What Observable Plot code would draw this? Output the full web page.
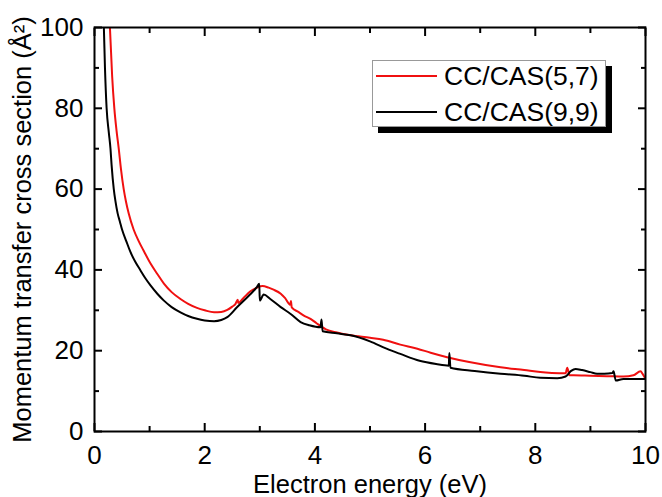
<!DOCTYPE html>
<html>
<head>
<meta charset="utf-8">
<script src="https://cdn.jsdelivr.net/npm/d3@7"></script>
<script src="https://cdn.jsdelivr.net/npm/@observablehq/plot@0.6"></script>
<style>
  html, body { margin: 0; padding: 0; background: #fff; }
  #wrap { position: relative; width: 662px; height: 497px; font-family: "Liberation Sans", Arial, sans-serif; }
  #legend { position: absolute; left: 372px; top: 60px; width: 232px; height: 65px; background: #fff;
            border: 1px solid #999; box-shadow: 6px 6px 0 #000; }
  .row { position: absolute; left: 0; height: 30px; display: flex; align-items: center; }
  .sw { width: 61px; height: 2px; margin-left: 3px; margin-right: 7px; }
  .lab { font-size: 26.5px; color: #000; line-height: 30px; }
</style>
</head>
<body>
<div id="wrap"></div>
<script>
// Series: CC/CAS(5,7)
const energyRed = [0.25,0.28,0.32,0.36,0.40,0.44,0.48,0.53,0.57,0.62,0.71,0.8,0.89,1.02,1.14,1.26,1.4,1.56,1.7,1.86,2.0,2.17,2.3,2.41,2.5,2.56,2.6,2.61,2.7,2.83,2.95,3.05,3.16,3.25,3.38,3.46,3.55,3.565,3.58,3.7,3.8,3.92,4.03,4.2,4.4,4.65,5.0,5.24,5.55,5.86,6.1,6.4,6.8,7.37,7.8,8.09,8.3,8.55,8.58,8.62,8.7,9.0,9.3,9.6,9.78,9.91,9.95,10.0];
const sigmaRed  = [106,100,88,80,74.5,70,65,60,57,54,50,47.2,44.8,41.5,39,36.6,34.5,32.8,31.6,30.6,30,29.5,29.6,30.1,30.9,31.6,32.6,31.8,33,34.7,35.6,36,35.6,35.1,34.1,33,31.4,32.3,30.7,29.6,28.7,27.9,26.8,25.3,24.5,23.8,23.2,22.7,21.5,20.5,19.5,18.4,17.2,15.9,15.2,14.7,14.5,14.4,15.8,13.9,13.9,13.8,13.7,13.6,13.9,14.9,14.2,13.0];
// Series: CC/CAS(9,9)
const energyBlack = [0.15,0.17,0.19,0.22,0.26,0.29,0.31,0.35,0.38,0.42,0.46,0.5,0.58,0.65,0.74,0.83,0.92,1.02,1.14,1.26,1.4,1.56,1.7,1.86,2.0,2.17,2.3,2.41,2.59,2.8,2.95,2.99,3.0,3.07,3.19,3.38,3.56,3.74,3.9,4.1,4.12,4.14,4.4,4.65,5.0,5.3,5.55,5.9,6.2,6.43,6.44,6.46,6.9,7.37,7.8,8.09,8.4,8.55,8.65,8.73,8.85,9.0,9.12,9.25,9.4,9.42,9.46,9.6,10.0];
const sigmaBlack  = [107,100,90,80,74,70,66,60,57,54,52,50,47,44.5,42,40,38,36.1,34.1,32.4,30.8,29.5,28.6,27.9,27.5,27.3,27.6,28.3,30.8,33.6,35.8,36.6,32.4,33.9,32.8,30.8,29.1,27.1,26.3,25.8,27.7,24.8,24.3,23.8,22.3,20.5,19.2,17.5,16.7,16.3,19.4,15.8,15.0,14.3,13.8,13.3,13.2,13.6,15.0,15.5,15.2,14.7,14.3,14.3,14.5,14.9,12.6,13.0,13.0];

const seriesNames = ["CC/CAS(5,7)", "CC/CAS(9,9)"];
const seriesColors = ["#f01010", "#000000"];

const xMajor = [0,2,4,6,8,10];
const xMinor = [1,3,5,7,9];
const yMajor = [0,20,40,60,80,100];
const yMinor = [10,30,50,70,90];

const xTitle = "Electron energy (eV)";
const yTitle = "Momentum transfer cross section (Å²)";

const red = energyRed.map((e,i) => ({e, s: sigmaRed[i]}));
const black = energyBlack.map((e,i) => ({e, s: sigmaBlack[i]}));

const fnt = "Liberation Sans, Arial, sans-serif";

const plot = Plot.plot({
  width: 662, height: 497,
  marginLeft: 94, marginRight: 17, marginTop: 27, marginBottom: 66,
  style: {fontFamily: fnt, fontSize: "26px", color: "#000", background: "#fff"},
  x: {domain: [0,10]},
  y: {domain: [0,100]},
  marks: [
    Plot.line(red, {x: "e", y: "s", stroke: seriesColors[0], strokeWidth: 2, curve: "monotone-x", clip: true}),
    Plot.line(black, {x: "e", y: "s", stroke: seriesColors[1], strokeWidth: 2, curve: "monotone-x", clip: true}),
    // inward ticks on all four sides
    Plot.axisX(xMajor, {anchor: "bottom", tickSize: -8, strokeWidth: 2, tickFormat: () => "", label: null}),
    Plot.axisX(xMinor, {anchor: "bottom", tickSize: -5, strokeWidth: 2, tickFormat: () => "", label: null}),
    Plot.axisX(xMajor, {anchor: "top", tickSize: -8, strokeWidth: 2, tickFormat: () => "", label: null}),
    Plot.axisX(xMinor, {anchor: "top", tickSize: -5, strokeWidth: 2, tickFormat: () => "", label: null}),
    Plot.axisY(yMajor, {anchor: "left", tickSize: -8, strokeWidth: 2, tickFormat: () => "", label: null}),
    Plot.axisY(yMinor, {anchor: "left", tickSize: -5, strokeWidth: 2, tickFormat: () => "", label: null}),
    Plot.axisY(yMajor, {anchor: "right", tickSize: -8, strokeWidth: 2, tickFormat: () => "", label: null}),
    Plot.axisY(yMinor, {anchor: "right", tickSize: -5, strokeWidth: 2, tickFormat: () => "", label: null}),
    // tick labels
    Plot.axisX(xMajor, {anchor: "bottom", tickSize: 0, tickPadding: 14, fontSize: 26, label: null}),
    Plot.axisY(yMajor, {anchor: "left", tickSize: 0, tickPadding: 11, fontSize: 26, label: null}),
    Plot.frame({stroke: "#000", strokeWidth: 2}),
    Plot.text([xTitle], {text: d => d, frameAnchor: "bottom", lineAnchor: "middle", textAnchor: "middle", dy: 53, fontSize: 25.5}),
    Plot.text([yTitle], {text: d => d, frameAnchor: "left", lineAnchor: "middle", textAnchor: "middle", dx: -72, rotate: -90, fontSize: 25.5})
  ]
});

const wrap = document.getElementById("wrap");
wrap.appendChild(plot);

const legend = document.createElement("div");
legend.id = "legend";
seriesNames.forEach((name, i) => {
  const row = document.createElement("div");
  row.className = "row";
  row.style.top = (i === 0 ? 0 : 36) + "px";
  const sw = document.createElement("div");
  sw.className = "sw";
  sw.style.background = seriesColors[i];
  const lab = document.createElement("span");
  lab.className = "lab";
  lab.textContent = name;
  row.appendChild(sw);
  row.appendChild(lab);
  legend.appendChild(row);
});
wrap.appendChild(legend);
</script>
</body>
</html>
